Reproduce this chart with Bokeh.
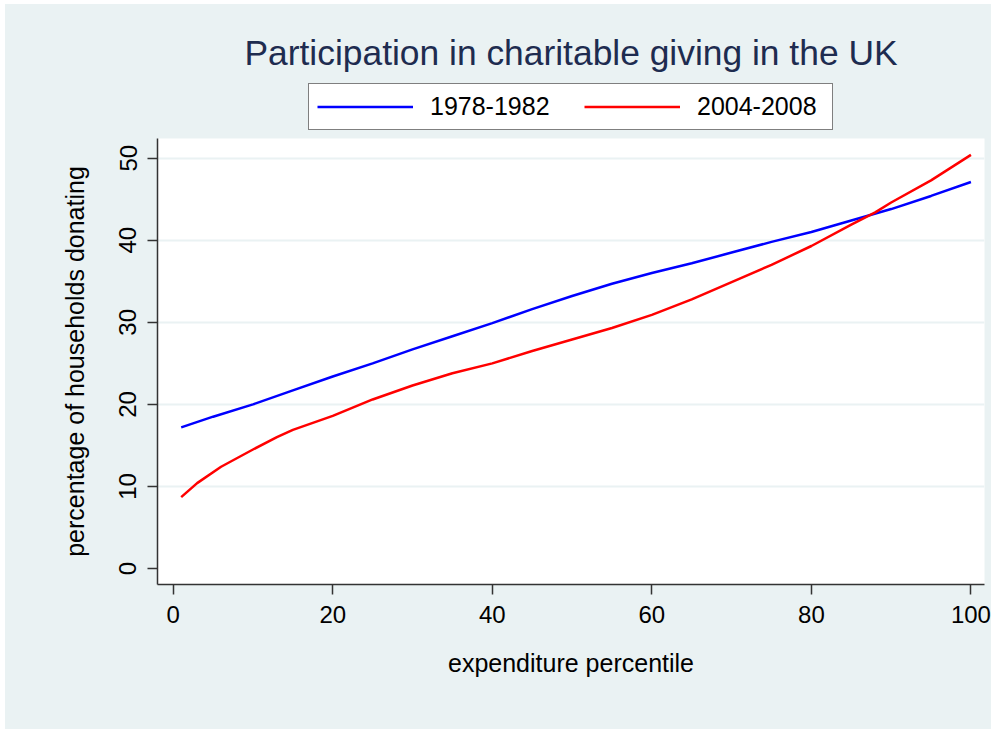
from bokeh.plotting import figure
from bokeh.layouts import column
from bokeh.models import Legend, LegendItem, FixedTicker, Range1d, Label
from bokeh.embed import file_html
from bokeh.resources import INLINE

title_text = "Participation in charitable giving in the UK"
x_label = "expenditure percentile"
y_label = "percentage of households donating"
series_names = ["1978-1982", "2004-2008"]

x_1978 = [1, 5, 10, 15, 20, 25, 30, 35, 40, 45, 50, 55, 60, 65, 70, 75, 80, 85, 90, 95, 100]
y_1978 = [17.2, 18.5, 20.0, 21.7, 23.4, 25.0, 26.7, 28.3, 29.9, 31.6, 33.2, 34.7, 36.0,
          37.2, 38.5, 39.8, 41.0, 42.4, 43.8, 45.4, 47.1]

x_2004 = [1, 3, 6, 10, 13, 15, 20, 25, 30, 35, 40, 45, 50, 55, 60, 65, 70, 75, 80, 85, 88, 90, 95, 100]
y_2004 = [8.7, 10.4, 12.4, 14.5, 16.0, 16.9, 18.6, 20.6, 22.3, 23.8, 25.0, 26.5, 27.9, 29.3,
          30.9, 32.8, 34.9, 37.0, 39.3, 41.9, 43.4, 44.6, 47.3, 50.4]

x_ticks = [0, 20, 40, 60, 80, 100]
y_ticks = [0, 10, 20, 30, 40, 50]
y_grid = [10, 20, 30, 40, 50]

BG = "#EAF2F3"
FONT = "Liberation Sans"
BLUE = "#0000FF"
RED = "#FF0000"
LW = 2.5

# ---- header (title + legend); its frame is aligned with the main plot's frame ----
top = figure(frame_width=827, frame_height=134, x_range=Range1d(0, 827), y_range=Range1d(0, 134),
             x_axis_type=None, y_axis_type=None, output_backend="svg", toolbar_location=None,
             min_border_left=152, min_border_right=7, min_border_top=0, min_border_bottom=0,
             background_fill_color=BG, border_fill_color=BG, border_fill_alpha=1.0,
             outline_line_color=None, styles={"background-color": BG})
top.xgrid.visible = False
top.ygrid.visible = False
top.title.visible = False

top.add_layout(Label(x=413.5, y=86, text=title_text, text_align="center", text_baseline="middle",
                     text_font=FONT, text_font_size="35.4px", text_color="#1E2C50"))

# legend sample lines (kept outside the header's visible range)
d1 = top.line([-100, -90], [-100, -100], line_color=BLUE, line_width=LW)
d2 = top.line([-100, -90], [-100, -100], line_color=RED, line_width=LW)

legend = Legend(items=[LegendItem(label=series_names[0], renderers=[d1]),
                       LegendItem(label=series_names[1], renderers=[d2])],
                orientation="horizontal", location=(151, 8),
                glyph_width=96, glyph_height=25, label_standoff=17, spacing=27,
                padding=8, margin=0, label_width=127,
                border_line_color="black", border_line_width=1,
                background_fill_color="white", background_fill_alpha=1.0,
                label_text_font=FONT, label_text_font_size="25px", label_text_color="black")
top.add_layout(legend, "center")

# ---- main plot ----
p = figure(frame_width=827, frame_height=446,
           x_range=Range1d(-1.97, 101.7), y_range=Range1d(-1.95, 52.4),
           output_backend="svg", toolbar_location=None,
           min_border_left=152, min_border_right=7, min_border_top=0, min_border_bottom=145,
           background_fill_color="white", border_fill_color=BG, outline_line_color=None,
           styles={"background-color": BG})
p.title.visible = False

p.line(x_1978, y_1978, line_color=BLUE, line_width=LW)
p.line(x_2004, y_2004, line_color=RED, line_width=LW)

for ax in (p.xaxis, p.yaxis):
    ax.axis_line_color = "#333333"
    ax.axis_line_width = 1.5
    ax.major_tick_line_color = "#333333"
    ax.major_tick_line_width = 1.5
    ax.major_tick_in = 0
    ax.major_tick_out = 10
    ax.minor_tick_line_color = None
    ax.major_label_text_font = FONT
    ax.major_label_text_font_size = "24px"
    ax.major_label_text_color = "black"
    ax.axis_label_text_font = FONT
    ax.axis_label_text_font_size = "25px"
    ax.axis_label_text_font_style = "normal"
    ax.axis_label_text_color = "black"

p.xaxis.ticker = FixedTicker(ticks=x_ticks)
p.yaxis.ticker = FixedTicker(ticks=y_ticks)
p.xaxis.axis_label = x_label
p.yaxis.axis_label = y_label
p.yaxis.major_label_orientation = "vertical"
p.xaxis.major_label_standoff = 11
p.yaxis.major_label_standoff = 11
p.xaxis.axis_label_standoff = 23
p.yaxis.axis_label_standoff = 28

p.xgrid.visible = False
p.ygrid.ticker = FixedTicker(ticks=y_grid)
p.ygrid.grid_line_color = BG
p.ygrid.grid_line_width = 2

layout = column(top, p, spacing=0, margin=(4, 0, 0, 5), styles={"background-color": BG})

open("out.html", "w").write(file_html(layout, INLINE))
